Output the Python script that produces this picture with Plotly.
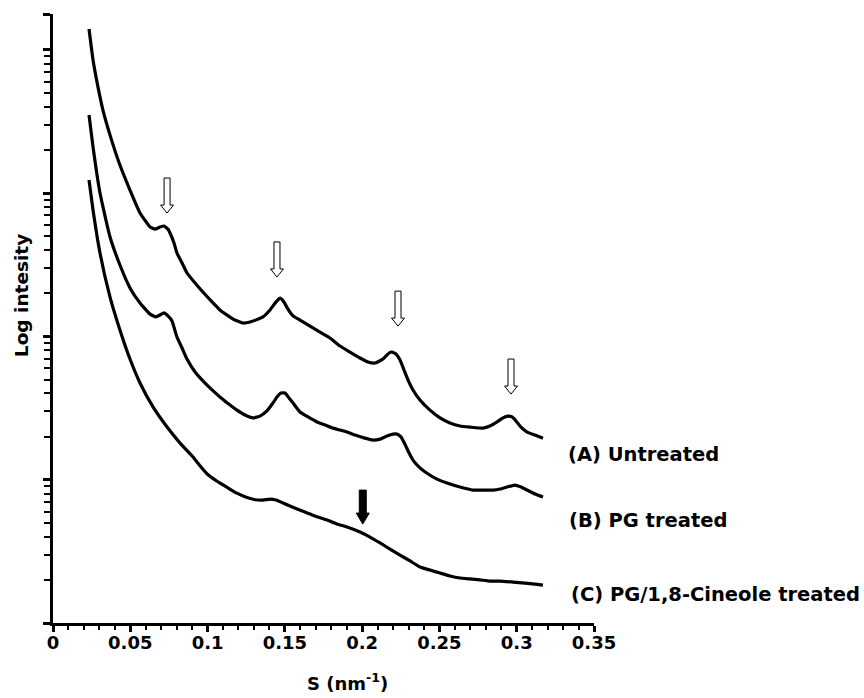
import plotly.graph_objects as go

# ---------------- data ----------------
s_A = [0.0233,0.0259,0.0304,0.0323,0.0369,0.0433,0.0498,0.0563,0.0608,0.0628,
       0.0660,0.0692,0.0718,0.0744,0.0757,0.0783,0.0802,0.0835,0.0867,0.0919,
       0.0970,0.1029,0.1080,0.1165,0.1229,0.1275,0.1359,0.1404,0.1443,0.1469,
       0.1494,0.1520,0.1553,0.1598,0.1663,0.1727,0.1792,0.1857,0.1921,0.1986,
       0.2038,0.2083,0.2135,0.2174,0.2193,0.2219,0.2245,0.2271,0.2297,0.2329,
       0.2374,0.2439,0.2504,0.2568,0.2633,0.2698,0.2782,0.2827,0.2873,0.2911,
       0.2944,0.2970,0.2995,0.3028,0.3067,0.3118,0.3170]
I_A = [13960,8490,4690,3800,2540,1570,1050,726,618,580,
       561,580,589,561,527,449,382,325,277,236,
       204,174,153,132,124,126,137,153,174,185,
       174,155,139,130,118,107,97.5,85.7,77.8,70.7,
       66.3,65.2,69.5,76.6,77.8,75.4,68.4,58.3,49.6,42.3,
       36.0,30.6,27.0,24.9,23.7,23.3,22.9,23.7,25.3,27.0,
       27.8,27.4,25.7,23.3,21.5,20.5,19.5]

s_B = [0.0233,0.0259,0.0304,0.0369,0.0433,0.0498,0.0563,0.0628,0.0666,0.0692,
       0.0718,0.0744,0.0770,0.0802,0.0835,0.0867,0.0919,0.0970,0.1029,0.1080,
       0.1145,0.1190,0.1242,0.1294,0.1339,0.1384,0.1423,0.1449,0.1475,0.1501,
       0.1527,0.1553,0.1598,0.1650,0.1708,0.1760,0.1812,0.1857,0.1902,0.1954,
       0.2018,0.2070,0.2116,0.2161,0.2200,0.2226,0.2251,0.2277,0.2303,0.2329,
       0.2374,0.2420,0.2484,0.2549,0.2633,0.2717,0.2782,0.2847,0.2892,0.2937,
       0.2989,0.3028,0.3067,0.3118,0.3170]
I_B = [3508,2098,1002,494,315,218,171,143,137,141,
       146,139,128,99.0,83.0,69.5,56.4,48.9,42.3,37.8,
       33.2,30.6,28.3,27.0,27.8,30.2,34.3,37.8,40.3,40.3,
       37.2,34.3,29.7,27.4,25.3,24.1,22.9,22.2,21.5,20.5,
       19.5,18.9,19.2,20.2,20.8,20.8,19.9,17.7,15.4,13.7,
       12.1,11.1,10.1,9.48,8.89,8.47,8.47,8.47,8.61,8.89,
       9.18,8.89,8.47,7.95,7.57]

s_C = [0.0233,0.0259,0.0304,0.0369,0.0433,0.0498,0.0563,0.0647,0.0738,0.0822,
       0.0906,0.0951,0.0996,0.1061,0.1126,0.1190,0.1255,0.1307,0.1359,0.1404,
       0.1443,0.1488,0.1533,0.1579,0.1630,0.1695,0.1773,0.1837,0.1902,0.1986,
       0.2051,0.2116,0.2180,0.2245,0.2310,0.2374,0.2439,0.2504,0.2568,0.2633,
       0.2698,0.2762,0.2827,0.2892,0.2976,0.3054,0.3118,0.3170]
I_C = [1234,762,382,188,111,69.5,47.3,32.2,23.3,18.0,
       14.4,12.5,11.0,9.75,8.85,8.05,7.50,7.25,7.21,7.33,
       7.21,6.88,6.55,6.25,5.95,5.58,5.23,4.91,4.68,4.32,
       3.98,3.62,3.28,2.98,2.71,2.46,2.34,2.23,2.13,2.06,
       2.03,2.00,1.96,1.96,1.93,1.90,1.87,1.84]

series_labels = ["(A) Untreated", "(B) PG treated", "(C) PG/1,8-Cineole treated"]
label_y = [0.276, 0.1675, 0.046]
label_x = [0.948, 0.950, 0.954]

open_arrow_s = [0.0738, 0.1449, 0.2232, 0.2963]
open_arrow_I = [726, 260, 118, 39.6]
solid_arrow_s = [0.2004]
solid_arrow_I = [4.9]

x_ticks = [0, 0.05, 0.1, 0.15, 0.2, 0.25, 0.3, 0.35]
x_ticktext = ["0", "0.05", "0.1", "0.15", "0.2", "0.25", "0.3", "0.35"]
y_decades = [1, 10, 100, 1000, 10000]
y_top = 17783

FONT = "DejaVu Sans"

fig = go.Figure()
for s, I in [(s_A, I_A), (s_B, I_B), (s_C, I_C)]:
    fig.add_trace(go.Scatter(x=s, y=I, mode="lines",
                             line=dict(color="black", width=3.2, shape="spline", smoothing=0.4),
                             showlegend=False, hoverinfo="skip"))

shapes = []
open_path = "M0,0 L-6.5,8 L-3,8 L-3,35 L3,35 L3,8 L6.5,8 Z"
solid_path = "M0,0 L-6.5,11 L-3.5,11 L-3.5,34 L3.5,34 L3.5,11 L6.5,11 Z"
for s, I in zip(open_arrow_s, open_arrow_I):
    shapes.append(dict(type="path", xref="x", yref="y", xsizemode="pixel", ysizemode="pixel",
                       xanchor=s, yanchor=I, path=open_path,
                       fillcolor="white", line=dict(color="black", width=1)))
for s, I in zip(solid_arrow_s, solid_arrow_I):
    shapes.append(dict(type="path", xref="x", yref="y", xsizemode="pixel", ysizemode="pixel",
                       xanchor=s, yanchor=I, path=solid_path,
                       fillcolor="black", line=dict(color="black", width=1)))

annotations = []
for t, xx, yy in zip(series_labels, label_x, label_y):
    annotations.append(dict(text="<b>" + t + "</b>", xref="paper", yref="paper", x=xx, y=yy,
                            xanchor="left", yanchor="middle", showarrow=False,
                            font=dict(family=FONT, size=19.5, color="black")))
annotations.append(dict(text="<b>S (nm<sup>-1</sup>)</b>", xref="paper", yref="paper",
                        x=0.545, y=-0.097, xanchor="center", yanchor="middle", showarrow=False,
                        font=dict(family=FONT, size=18, color="black")))
annotations.append(dict(text="<b>Log intesity</b>", xref="paper", yref="paper",
                        x=-0.057, y=0.537, xanchor="center", yanchor="middle", showarrow=False,
                        textangle=-90,
                        font=dict(family=FONT, size=18.5, color="black")))

minor_y = [k * d for d in [1, 10, 100, 1000] for k in range(2, 10)]

fig.update_layout(
    width=864, height=698,
    margin=dict(l=53, r=270, t=14, b=75, pad=0),
    paper_bgcolor="white", plot_bgcolor="white",
    shapes=shapes, annotations=annotations,
    xaxis=dict(range=[0, 0.35], tickvals=x_ticks,
               ticktext=["<b>" + t + "</b>" for t in x_ticktext],
               showline=True, linecolor="black", linewidth=2.5,
               ticks="outside", ticklen=6, tickwidth=2.5, tickcolor="black",
               ticklabelstandoff=-4,
               showgrid=False, zeroline=False,
               minor=dict(tickvals=[i / 100 for i in range(1, 35)], ticks="outside",
                          ticklen=4, tickwidth=2, tickcolor="black", showgrid=False),
               tickfont=dict(family=FONT, size=18, color="black")),
    yaxis=dict(type="log", range=[0, 4.25],
               tickvals=y_decades + [y_top], showticklabels=False,
               showline=True, linecolor="black", linewidth=2.5,
               ticks="outside", ticklen=7, tickwidth=2.5, tickcolor="black",
               showgrid=False, zeroline=False,
               minor=dict(tickvals=minor_y, ticks="outside", ticklen=6, tickwidth=2,
                          tickcolor="black", showgrid=False)),
)

fig.write_html("out.html")
